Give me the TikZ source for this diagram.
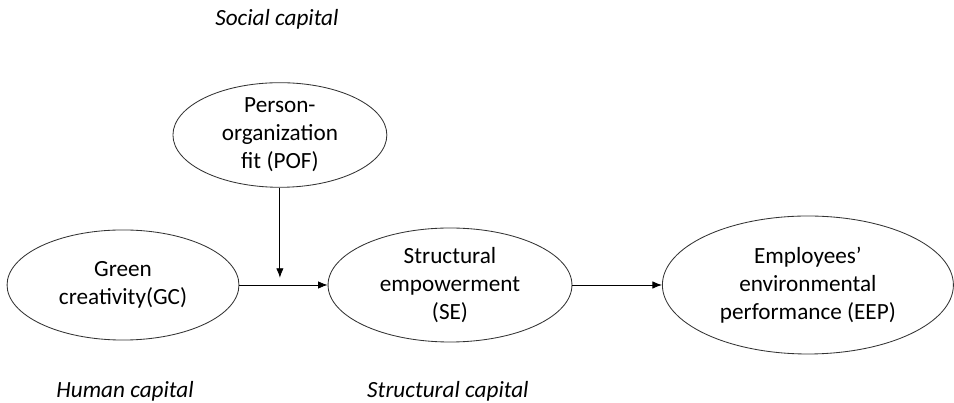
\documentclass[tikz,border=0pt]{standalone}
\usepackage{fontspec}
\setmainfont{Carlito}
\usetikzlibrary{arrows.meta,shapes.geometric}
\tikzset{
 construct/.style={draw=black!80,ellipse,line width=0.8pt,align=center,inner sep=0pt,font=\fontsize{22}{26.5}\selectfont},
 capital/.style={font=\fontsize{22}{26.5}\selectfont\itshape},
 link/.style={-{Latex[length=9pt,width=7pt]},line width=0.8pt}
}

\begin{document}
\begin{tikzpicture}
\useasboundingbox (0,0) rectangle (31.8,13.43);
\node[construct,minimum width=7.13cm,minimum height=3.17cm] (POF) at (9.33,8.93) {Person-\\organization\\fit (POF)};
\node[construct,minimum width=7.73cm,minimum height=3.67cm] (GC) at (4.1,3.93) {Green\\creativity(GC)};
\node[construct,minimum width=8.13cm,minimum height=3.8cm] (SE) at (15.0,3.93) {Structural\\empowerment\\(SE)};
\node[construct,minimum width=9.7cm,minimum height=4.6cm] (EEP) at (26.93,3.93) {Employees’\\environmental\\performance (EEP)};
\coordinate (meet) at (9.33,4.17);
\draw[link] (GC) -- (SE);
\draw[link] (SE) -- (EEP);
\draw[link] (POF.south) -- (meet);
\node[capital] (social) at (9.23,12.77) {Social capital};
\node[capital] (human) at (4.17,0.4) {Human capital};
\node[capital] (structural) at (14.93,0.4) {Structural capital};
\end{tikzpicture}
\end{document}
